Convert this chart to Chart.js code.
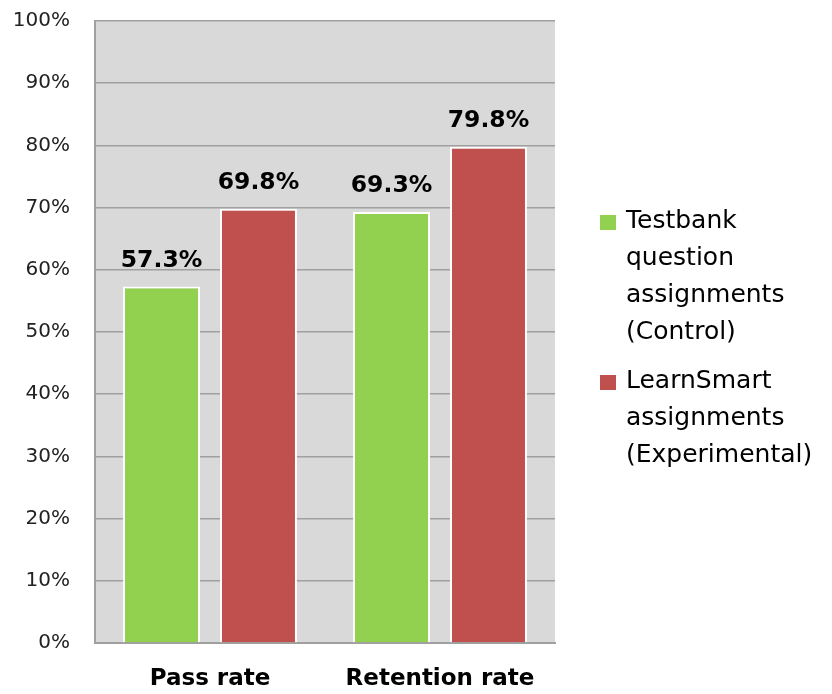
<!DOCTYPE html>
<html>
<head>
<meta charset="utf-8">
<script src="https://cdn.jsdelivr.net/npm/chart.js@4.4.0/dist/chart.umd.min.js"></script>
<style>
  html, body { margin: 0; padding: 0; background: #fff; }
  #wrap { position: relative; width: 832px; height: 694px; }
  #legend { position: absolute; left: 600px; top: 201px; font-family: "DejaVu Sans", sans-serif; font-size: 25px; line-height: 37px; color: #000; }
  .item { position: relative; padding-left: 26px; margin-bottom: 12px; }
  .box { position: absolute; left: 0; top: 14px; width: 16px; height: 15px; }
</style>
</head>
<body>
<div id="wrap">
  <canvas id="rateChart" width="832" height="694"></canvas>
  <div id="legend"></div>
</div>
<script>
const categories = ['Pass rate', 'Retention rate'];
const controlValues = [57.3, 69.3];
const experimentalValues = [69.8, 79.8];
const seriesNames = [
    ['Testbank', 'question', 'assignments', '(Control)'],
    ['LearnSmart', 'assignments', '(Experimental)']
];
const seriesColors = ['#92d050', '#c0504d'];
const yTicks = [0, 10, 20, 30, 40, 50, 60, 70, 80, 90, 100];

// value labels above each bar
const barLabels = {
    id: 'barLabels',
    afterDatasetsDraw(chart) {
        const ctx = chart.ctx;
        ctx.save();
        ctx.font = 'bold 23.5px "DejaVu Sans", sans-serif';
        ctx.fillStyle = '#000';
        ctx.textAlign = 'center';
        ctx.textBaseline = 'alphabetic';
        chart.data.datasets.forEach((ds, i) => {
            chart.getDatasetMeta(i).data.forEach((bar, j) => {
                ctx.fillText(ds.data[j].toFixed(1) + '%', bar.x, bar.y - 20);
            });
        });
        ctx.restore();
    }
};

// grey plot background
const plotBg = {
    id: 'plotBg',
    beforeDraw(chart) {
        const a = chart.chartArea;
        const ctx = chart.ctx;
        ctx.save();
        ctx.fillStyle = '#d9d9d9';
        ctx.fillRect(a.left, a.top, a.right - a.left, a.bottom - a.top);
        ctx.restore();
    }
};

const ctx = document.getElementById('rateChart').getContext('2d');
new Chart(ctx, {
    type: 'bar',
    data: {
        labels: categories,
        datasets: [
            { label: seriesNames[0].join(' '), data: controlValues, backgroundColor: seriesColors[0] },
            { label: seriesNames[1].join(' '), data: experimentalValues, backgroundColor: seriesColors[1] }
        ]
    },
    options: {
        responsive: false,
        animation: false,
        layout: { padding: { top: 21, right: 277, left: 0, bottom: 0 } },
        datasets: {
            bar: {
                categoryPercentage: 0.843,
                barPercentage: 0.794,
                borderColor: '#ffffff',
                borderWidth: 2,
                borderSkipped: 'bottom'
            }
        },
        plugins: {
            legend: { display: false },
            tooltip: { enabled: false }
        },
        scales: {
            x: {
                grid: { display: false, drawTicks: false },
                border: { display: true, color: '#a0a0a0', width: 2 },
                ticks: {
                    color: '#000',
                    padding: 22,
                    font: { family: '"DejaVu Sans", sans-serif', size: 23, weight: 'bold' }
                },
                afterFit(scale) {
                    scale.height = 51;
                    scale.paddingLeft = 0;
                    scale.paddingRight = 0;
                }
            },
            y: {
                min: 0,
                max: 100,
                afterBuildTicks(scale) { scale.ticks = yTicks.map(v => ({ value: v })); },
                grid: { color: '#a0a0a0', lineWidth: 1.5, drawTicks: false },
                border: { display: true, color: '#a0a0a0', width: 2 },
                ticks: {
                    color: '#222',
                    padding: 25,
                    font: { family: '"DejaVu Sans", sans-serif', size: 20 },
                    callback: v => v + '%'
                },
                afterFit(scale) {
                    scale.width = 95;
                    scale.paddingTop = 0;
                    scale.paddingBottom = 0;
                }
            }
        }
    },
    plugins: [plotBg, barLabels]
});

// legend on the right, wrapped like the original
const legend = document.getElementById('legend');
seriesNames.forEach((lines, i) => {
    const item = document.createElement('div');
    item.className = 'item';
    item.innerHTML = '<span class="box" style="background:' + seriesColors[i] + '"></span>' + lines.join('<br>');
    legend.appendChild(item);
});
</script>
</body>
</html>
